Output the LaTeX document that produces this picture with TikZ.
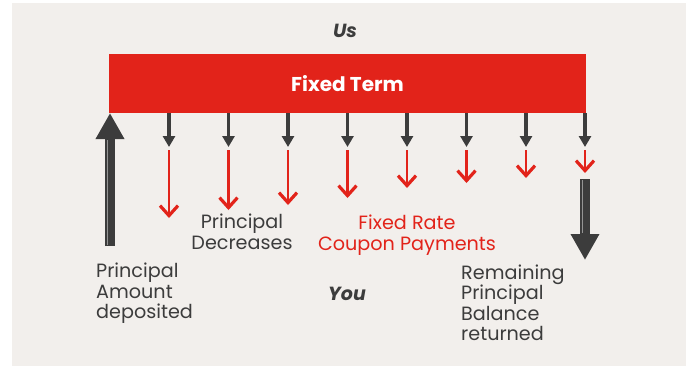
\documentclass[tikz,border=0pt]{standalone}
\usepackage{fontspec}
\setmainfont{Poppins}
\usetikzlibrary{arrows.meta}
\definecolor{termred}{HTML}{E2231A}
\definecolor{ink}{HTML}{3C3C3C}
\definecolor{paper}{HTML}{F2EFEC}
\tikzset{
  tickarrow/.style={draw=ink, line width=3.5pt, -{Triangle[length=11pt,width=12pt]}},
  couponarrow/.style={draw=termred, line width=2.8pt, -{Straight Barb[length=10pt,width=18pt,line width=3.2pt]}},
  bigarrow/.style={draw=ink, line width=10pt, -{Triangle[length=26pt,width=27pt]}},
  shine/.style={draw=ink!55, line width=1pt},
  label/.style={text=ink, inner sep=0pt},
}
% one payment: tick from the bar, coupon below it
\newcommand{\payment}[3]{\coordinate (t#1) at (#2,113); \coordinate (h#1) at (#2,147);
  \coordinate (c#1) at (#2,150); \coordinate (e#1) at (#2,#3);
  \draw[tickarrow] (t#1) -- (h#1); \draw[couponarrow] (c#1) -- (e#1);}

\begin{document}
\begin{tikzpicture}[x=1pt, y=-1pt, font=\fontsize{19.2}{20.5}\selectfont]
        \useasboundingbox (0,0) rectangle (689,367);
        \fill[paper] (12,3) rectangle (686,366);
        % the term bar
        \node[fill=termred, minimum width=477pt, minimum height=59pt, inner sep=0pt, text=white,
          font=\fontsize{20}{22}\selectfont\bfseries] (term) at (347.5,83.5) {Fixed Term};
        \node[label, font=\fontsize{19}{22}\selectfont\bfseries\itshape] (us) at (345,31) {Us};
        % principal in
        \coordinate (inlow) at (110,246);
        \coordinate (intop) at (110,113);
        \draw[bigarrow] (inlow) -- (intop);
        \draw[shine] (107.5,245) -- (107.5,140);
        % payments
        \payment{1}{169}{218}
        \payment{2}{228.5}{210}
        \payment{3}{288}{205}
        \payment{4}{347.5}{198}
        \payment{5}{407}{188}
        \payment{6}{466.5}{183}
        \payment{7}{526}{178}
        \payment{8}{585}{173}
        % principal back
        \coordinate (outtop) at (585,179);
        \coordinate (outlow) at (585,260);
        \draw[bigarrow] (outtop) -- (outlow);
        \draw[shine] (582.5,180) -- (582.5,233);
        % texts (base = last line)
        \node[label, align=center, anchor=base] (decr) at (242,249) {Principal\\Decreases};
        \node[label, align=center, anchor=base, text=termred] (coupon) at (407,250) {Fixed Rate\\Coupon Payments};
        \node[label, align=left, anchor=base west] (dep) at (96,318.5) {Principal\\Amount\\deposited};
        \node[label, font=\fontsize{19}{22}\selectfont\bfseries\itshape] (you) at (347,294) {You};
        \node[label, align=left, anchor=base west] (ret) at (461,340.5) {Remaining\\Principal\\Balance\\returned};
\end{tikzpicture}
\end{document}
